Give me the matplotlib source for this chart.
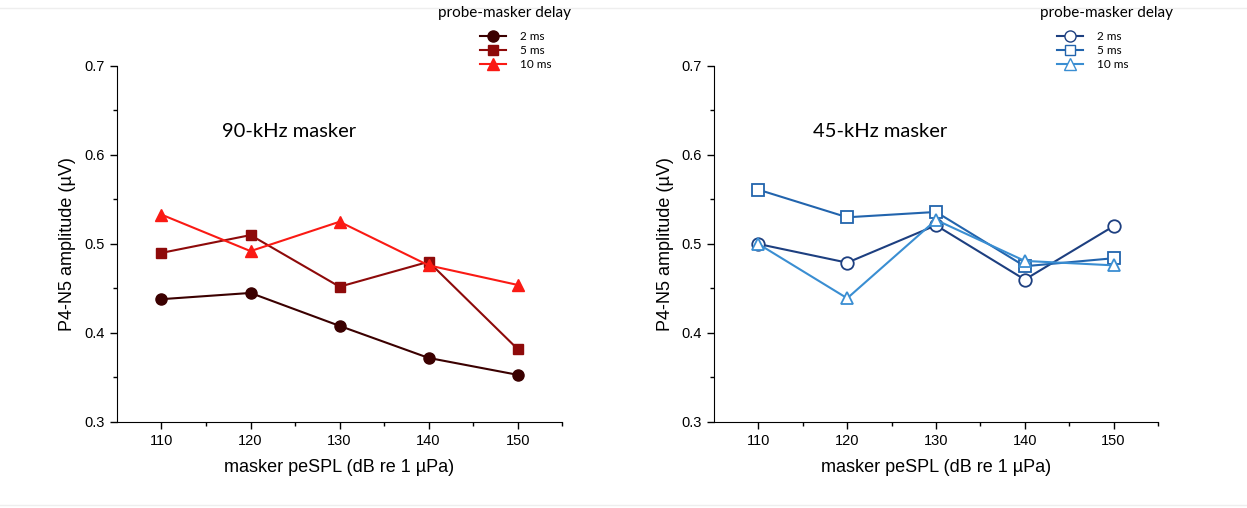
import matplotlib.pyplot as plt
from matplotlib.lines import Line2D

# masker level (dB re 1 uPa)
levels = [110, 120, 130, 140, 150]
delays = ['2 ms', '5 ms', '10 ms']

# P4-N5 amplitudes (uV), 90-kHz masker
amp90_2ms = [0.438, 0.445, 0.408, 0.372, 0.353]
amp90_5ms = [0.490, 0.510, 0.452, 0.480, 0.382]
amp90_10ms = [0.533, 0.492, 0.525, 0.476, 0.454]

# P4-N5 amplitudes (uV), 45-kHz masker
amp45_2ms = [0.500, 0.479, 0.521, 0.460, 0.520]
amp45_5ms = [0.561, 0.530, 0.536, 0.475, 0.484]
amp45_10ms = [0.500, 0.439, 0.527, 0.481, 0.476]

fig = plt.figure(figsize=(12.47, 5.08), dpi=100)
ax1 = fig.add_axes([0.0938, 0.1693, 0.357, 0.7008])
ax2 = fig.add_axes([0.5726, 0.1693, 0.356, 0.7008])

reds = ['#3b0000', '#8e0a0a', '#fa1a14']
blues = ['#1d3f80', '#2264ad', '#3a8ed2']
markers = ['o', 's', '^']

for ys, c, m in zip([amp90_2ms, amp90_5ms, amp90_10ms], reds, markers):
    ax1.plot(levels, ys, color=c, marker=m, ms=8 if m != 's' else 7, lw=1.5,
             mfc=c, mec=c)
for ys, c, m in zip([amp45_2ms, amp45_5ms, amp45_10ms], blues, markers):
    ax2.plot(levels, ys, color=c, marker=m, ms=9 if m != 's' else 8, lw=1.5,
             mfc='white', mec=c, mew=1.3)

# (axes, panel label, colours, filled markers, legend x, title centre x, label x)
panels = [(ax1, '90-kHz masker', reds, True, 480, 505, 0.236),
          (ax2, '45-kHz masker', blues, False, 1057, 1106, 0.222)]

for ax, label, cols, filled, hx, tx, px in panels:
    ax.set_xlim(105, 155)
    ax.set_ylim(0.3, 0.7)
    ax.set_xticks(levels)
    ax.set_xticks([115, 125, 135, 145, 155], minor=True)
    ax.set_yticks([0.3, 0.4, 0.5, 0.6, 0.7])
    ax.set_yticklabels(['0.3', '0.4', '0.5', '0.6', '0.7'])
    ax.set_yticks([0.35, 0.45, 0.55, 0.65], minor=True)
    ax.spines['top'].set_visible(False)
    ax.spines['right'].set_visible(False)
    ax.tick_params(direction='out', length=5, width=1, labelsize=10.5,
                   labelfontfamily='Liberation Sans')
    ax.tick_params(which='minor', direction='out', length=3, width=1)
    ax.set_xlabel('masker peSPL (dB re 1 µPa)', fontsize=13,
                  family='Liberation Sans', labelpad=8)
    ax.set_ylabel('P4-N5 amplitude (µV)', fontsize=13,
                  family='Liberation Sans', labelpad=6)
    ax.text(px, 0.817, label, transform=ax.transAxes,
            fontsize=14.5, family='Lato', va='center')

    handles = [Line2D([], [], color=c, marker=m, ms=8 if m != 's' else 7, lw=1.5,
                      mfc=c if filled else 'white', mec=c)
               for c, m in zip(cols, markers)]
    ax.legend(handles, delays, loc='upper left',
              bbox_to_anchor=(hx / 1247, 0.938), bbox_transform=fig.transFigure,
              frameon=False, prop={'family': 'Lato', 'size': 8.5},
              handlelength=2.2, handletextpad=1.2, labelspacing=0.23,
              borderaxespad=0, borderpad=0)
    fig.text(tx / 1247, 1 - 13 / 508, 'probe-masker delay', ha='center',
             va='center', family='Lato', fontsize=11)

fig.add_artist(Line2D([0.0, 1.0], [0.984, 0.984], color='#eeeeee', lw=1))
fig.add_artist(Line2D([0.0, 1.0], [0.006, 0.006], color='#eeeeee', lw=1))

fig.savefig('out.png', dpi=100)
